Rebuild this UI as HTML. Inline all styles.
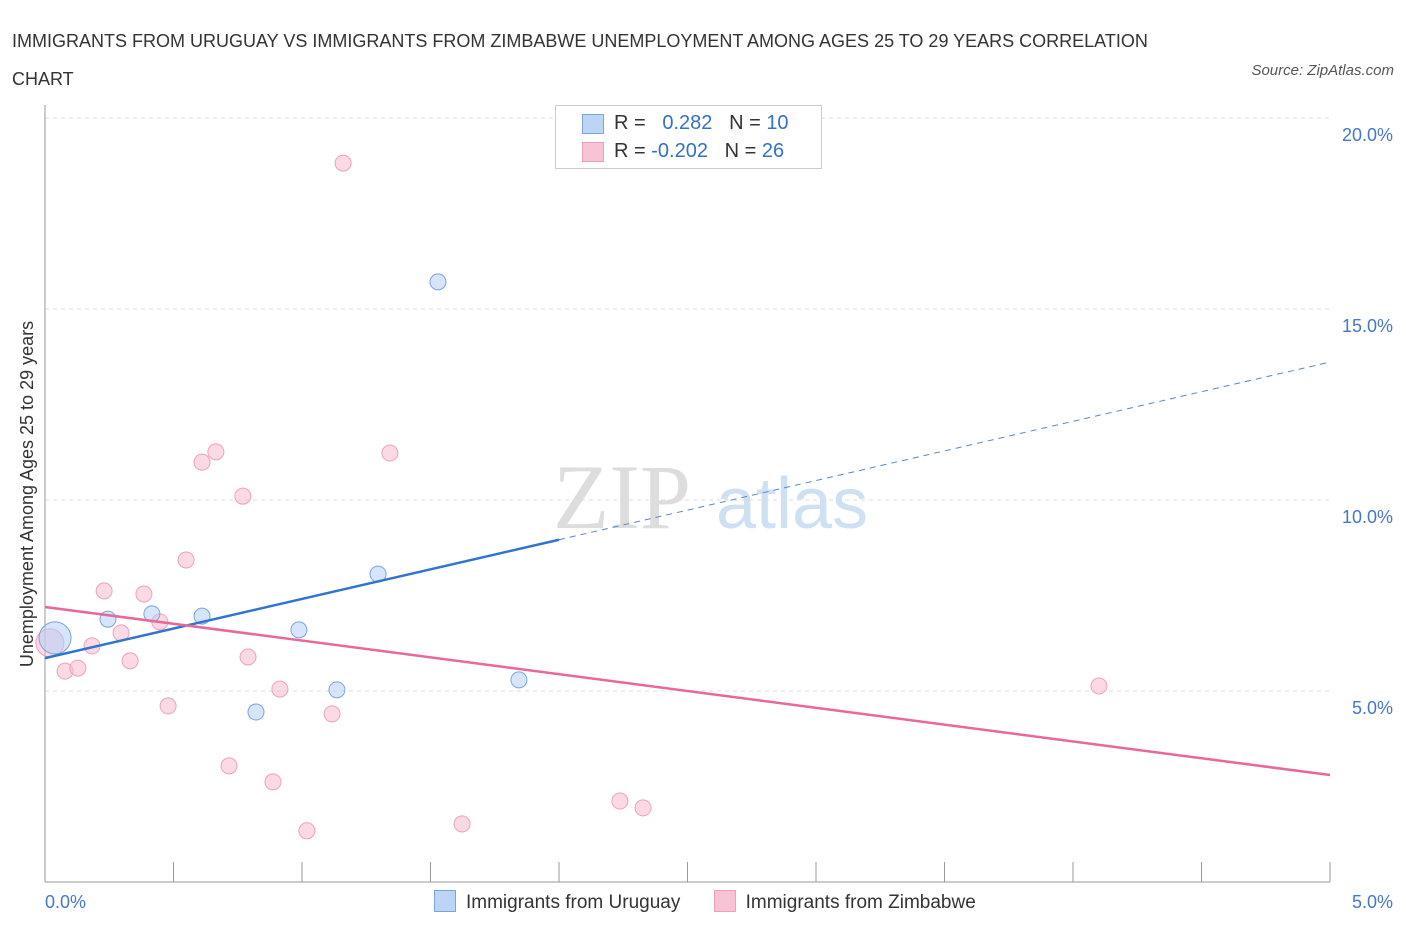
<!DOCTYPE html>
<html><head><meta charset="utf-8"><style>
body{margin:0;background:#fff;font-family:"Liberation Sans",sans-serif;}
#wrap{position:relative;width:1406px;height:930px;overflow:hidden}
.t{position:absolute;}
</style></head><body><div id="wrap">
<div class="t" style="left:12px;top:22px;font-size:18px;color:#333;line-height:38px;width:1200px">IMMIGRANTS FROM URUGUAY VS IMMIGRANTS FROM ZIMBABWE UNEMPLOYMENT AMONG AGES 25 TO 29 YEARS CORRELATION CHART</div>
<div class="t" style="right:12px;top:62px;font-size:15px;color:#555;font-style:italic">Source: ZipAtlas.com</div>
<svg id="c" width="1406" height="930" style="position:absolute;left:0;top:0"></svg>
</div>
<script>
const uruX=[0.039,0.245,0.416,0.611,0.821,0.988,1.136,1.296,1.529,1.844];
const uruY=[6.39,6.88,7.02,6.96,4.45,6.60,5.03,8.06,15.71,5.29];
const zimX=[0.019,0.078,0.128,0.183,0.230,0.296,0.331,0.385,0.447,0.479,0.549,0.611,0.665,0.716,0.770,0.790,0.887,0.914,1.019,1.117,1.160,1.342,1.623,2.237,2.327,4.101];
const zimY=[6.26,5.52,5.60,6.18,7.62,6.52,5.79,7.54,6.81,4.61,8.43,10.99,11.26,3.04,10.10,5.89,2.62,5.05,1.34,4.40,18.82,11.23,1.52,2.12,1.94,5.13];
const yTicks=[5,10,15,20];
const yTickLabels=["5.0%","10.0%","15.0%","20.0%"];
const uruTrend=[5.86,13.61];
const zimTrend=[7.20,2.80];
const NS="http://www.w3.org/2000/svg";
const svg=document.getElementById('c');
const sx=v=>45+v*257, sy=v=>882-v*38.2;
function mk(t,a){const e=document.createElementNS(NS,t);for(const k in a)e.setAttribute(k,a[k]);svg.appendChild(e);return e;}
yTicks.forEach((v,i)=>{
 const g=mk('line',{x1:45,x2:1330,y1:sy(v),y2:sy(v),stroke:'#ddd','stroke-dasharray':'4,4'});
 
 
 const t=mk('text',{x:1393,y:sy(v)+23,'text-anchor':'end','font-size':18,fill:'#4477cc','font-family':'Liberation Sans'});
 t.textContent=yTickLabels[i];
 
 
});
let ax=mk('line',{x1:45,x2:45,y1:105,y2:882,stroke:'#999'});


ax=mk('line',{x1:45,x2:1330,y1:882,y2:882,stroke:'#999'});


for(let i=0;i<=10;i++){const l=mk('line',{x1:45+i*128.5,x2:45+i*128.5,y1:862,y2:882,stroke:'#999'});
 
 }
let tx=mk('text',{x:45,y:908,'font-size':18,fill:'#4477cc','font-family':'Liberation Sans'});tx.textContent='0.0%';


tx=mk('text',{x:1393,y:908,'text-anchor':'end','font-size':18,fill:'#4477cc','font-family':'Liberation Sans'});tx.textContent='5.0%';


tx=mk('text',{x:0,y:0,'font-size':18,fill:'#333','text-anchor':'middle',transform:'translate(33,494) rotate(-90)','font-family':'Liberation Sans'});tx.textContent='Unemployment Among Ages 25 to 29 years';


// watermark
tx=mk('text',{x:553,y:528,'font-size':92,fill:'#ddd','font-family':'Liberation Serif'});tx.textContent='ZIP';


tx=mk('text',{x:716,y:528,'font-size':72,fill:'#cfe0f3','font-family':'Liberation Sans'});tx.textContent='atlas';


// points
zimX.forEach((x,i)=>{const c=mk('circle',{cx:sx(x),cy:sy(zimY[i]),r:i==0?14:8,fill:'rgba(248,187,208,0.55)',stroke:'#f0a0bc','stroke-width':1});
 
 });
uruX.forEach((x,i)=>{const c=mk('circle',{cx:sx(x),cy:sy(uruY[i]),r:i==0?16:8,fill:'rgba(180,208,245,0.55)',stroke:'#7aa4dc','stroke-width':1});
 
 });
// trends
const uy=x=>uruTrend[0]+(uruTrend[1]-uruTrend[0])*x/5;
let l=mk('line',{x1:sx(0),y1:sy(uy(0)),x2:sx(2),y2:sy(uy(2)),stroke:'#2f74d0','stroke-width':2.5});


l=mk('line',{x1:sx(2),y1:sy(uy(2)),x2:sx(5),y2:sy(uy(5)),stroke:'#5588d0','stroke-width':1,'stroke-dasharray':'6,5'});


l=mk('line',{x1:sx(0),y1:sy(zimTrend[0]),x2:sx(5),y2:sy(zimTrend[1]),stroke:'#e8689a','stroke-width':2.5});


</script>
<div class="t" style="left:555px;top:105px;width:265px;height:62px;border:1px solid #ccc;background:#fff;font-size:20px;color:#333">
 <div style="position:absolute;left:26px;top:8px;width:20px;height:18px;background:#bcd4f5;border:1px solid #7aa4dc"></div>
 <div style="position:absolute;left:58px;top:6px">R = &nbsp;<span style="color:#3370c8">&nbsp;0.282</span>&nbsp;&nbsp;&nbsp;N = <span style="color:#3370c8">10</span></div>
 <div style="position:absolute;left:26px;top:36px;width:20px;height:18px;background:#f8c3d5;border:1px solid #f0a0bc"></div>
 <div style="position:absolute;left:58px;top:34px">R = <span style="color:#3370c8">-0.202</span>&nbsp;&nbsp;&nbsp;N = <span style="color:#3370c8">26</span></div>
</div>
<div class="t" style="left:434px;top:890px;font-size:19px;color:#333;white-space:nowrap">
 <span><span style="display:inline-block;width:20px;height:20px;background:#bcd4f5;border:1px solid #7aa4dc;vertical-align:-4px;margin-right:10px"></span>Immigrants from Uruguay</span>
 <span style="margin-left:28px"><span style="display:inline-block;width:20px;height:20px;background:#f8c3d5;border:1px solid #f0a0bc;vertical-align:-4px;margin-right:10px"></span>Immigrants from Zimbabwe</span>
</div>
</body></html>
